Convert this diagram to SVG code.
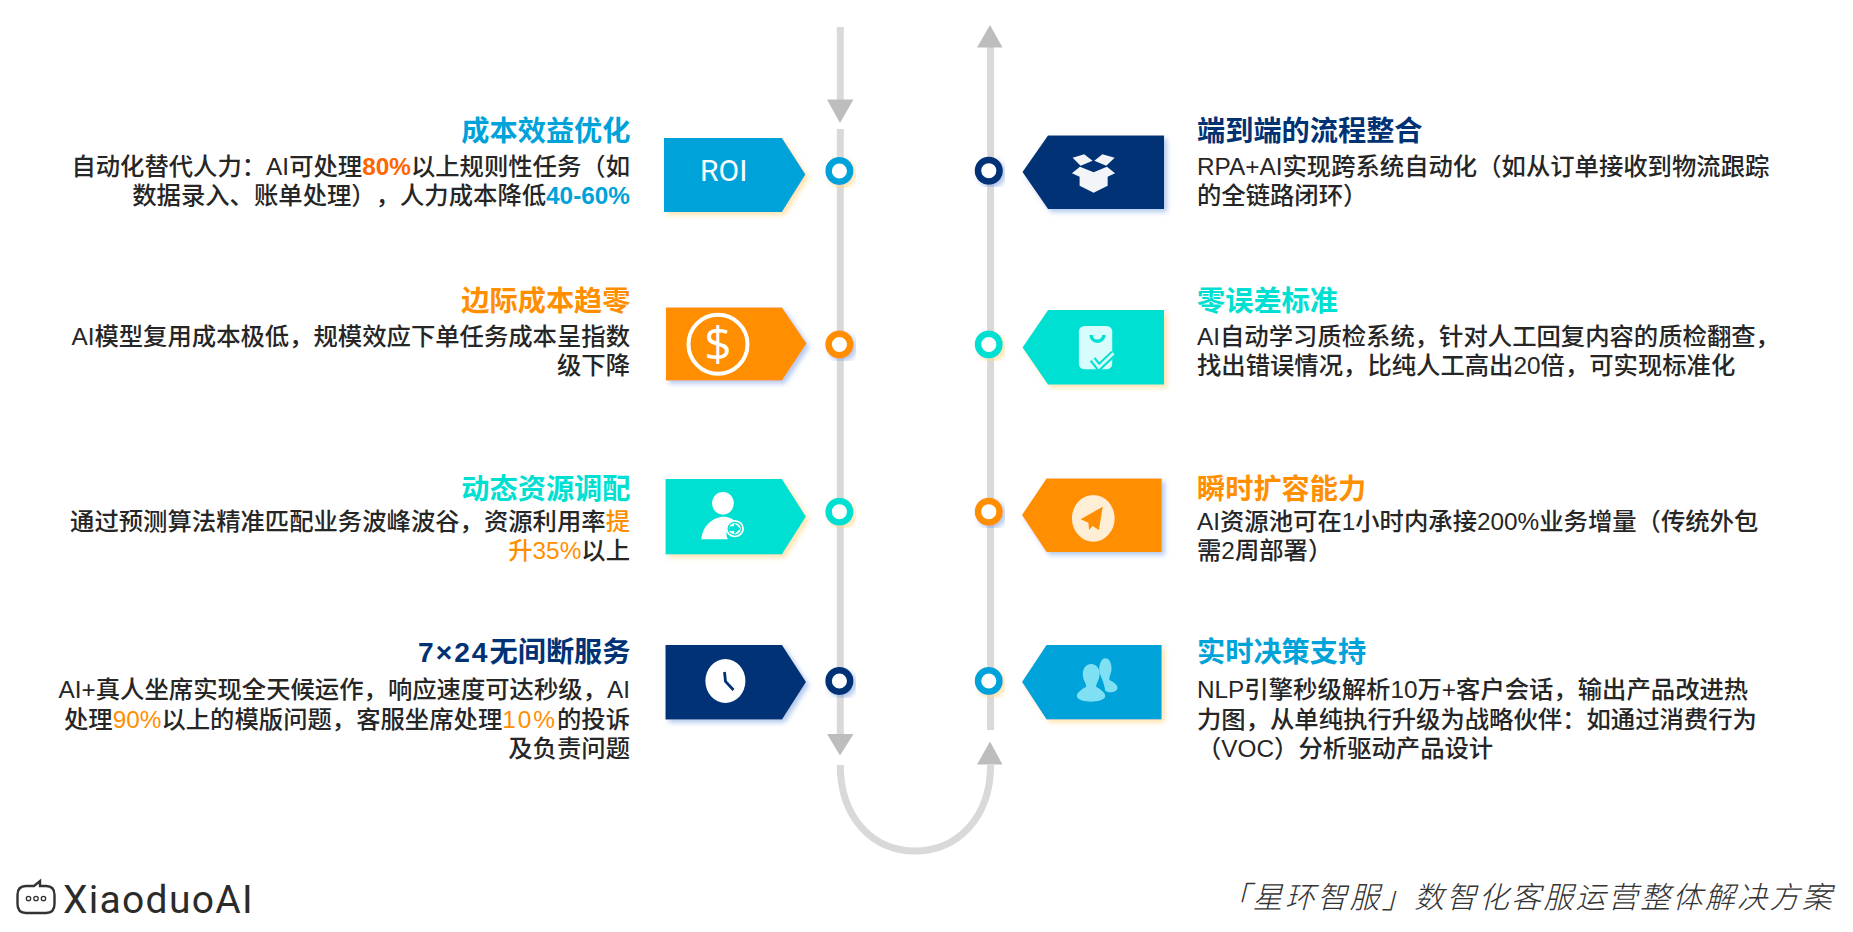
<svg xmlns="http://www.w3.org/2000/svg" width="1853" height="932" viewBox="0 0 1853 932">
<style>
text{font-family:"Liberation Sans","Noto Sans CJK SC",sans-serif;text-spacing-trim:space-all}
.t{font-size:28.2px;font-weight:700}
.b{font-size:24.35px;font-weight:500;fill:#262626}
.e{text-anchor:end}
.s{font-weight:700}
.cb{fill:#00A3D9}.co{fill:#FF8F00}.ct{fill:#00E0D2}.cn{fill:#003274}.cr{fill:#FF6600}
.l{fill:none;stroke:#D9D9D9;stroke-width:7}
.h{fill:#BDBDBD}
.r{fill:#fff;stroke-width:6.5}
.rb{stroke:#00A3D9}.ro{stroke:#FF8F00}.rt{stroke:#00E0D2}.rn{stroke:#003274}
.sy{filter:url(#sy)}.sb{filter:url(#sb)}
</style>
<defs>
<filter id="sy" x="-20%" y="-20%" width="145%" height="145%"><feDropShadow dx="3" dy="3" stdDeviation="2.5" flood-color="#FFD98A" flood-opacity=".7"/></filter>
<filter id="sb" x="-20%" y="-20%" width="145%" height="145%"><feDropShadow dx="3" dy="3" stdDeviation="2.5" flood-color="#7FA4E0" flood-opacity=".6"/></filter>
</defs>
<rect width="1853" height="932" fill="#fff"/>
<g id="connectors">
<path class="l" d="M840.3 27V100"/>
<polygon class="h" points="827,99.5 853.5,99.5 840,123"/>
<path class="l" d="M840.3 129V734"/>
<polygon class="h" points="827,734 853.5,734 840,755.5"/>
<path class="l" d="M840.3 765C840.3 818 873 851 915 851C957 851 990.6 818 990.6 765"/>
<polygon class="h" points="977,764.5 1002.5,764.5 990,741.5"/>
<path class="l" d="M990.6 730V47"/>
<polygon class="h" points="977,47.5 1002.5,47.5 990,25"/>
</g>
<g id="node-roi">
<polygon class="cb sy" points="664,138 782,138 805.5,174.5 782,212 664,212"/>
<text x="723.7" y="181" text-anchor="middle" fill="#fff" style="font-family:Roboto,sans-serif;font-size:30px;font-weight:400">ROI</text>
<circle class="r rb sy" cx="839.4" cy="171" r="10.8"/>
<text class="t cb e" x="630.5" y="141">成本效益优化</text>
<text class="b e" x="630" y="175">自动化替代人力：AI可处理<tspan class="cr s">80%</tspan>以上规则性任务（如</text>
<text class="b e" x="630" y="204">数据录入、账单处理），人力成本降低<tspan class="cb s">40-60%</tspan></text>
</g>
<g id="node-marginal">
<polygon class="co sb" points="666,307.500 782,307.500 806.500,343.500 782,380.500 666,380.500"/>
<circle cx="718" cy="344.300" r="29.500" fill="none" stroke="#fff" stroke-width="4"/>
<text x="718" y="361" text-anchor="middle" fill="#fff" style="font-family:'Open Sans',sans-serif;font-weight:400;font-size:48px">$</text>
<circle class="r ro sb" cx="839.400" cy="344.500" r="10.800"/>
<text class="t co e" x="630.500" y="311">边际成本趋零</text>
<text class="b e" x="630" y="344.500">AI模型复用成本极低，规模效应下单任务成本呈指数</text>
<text class="b e" x="630" y="374">级下降</text>
</g>
<g id="node-dynamic">
<polygon class="ct sy" points="665.500,479 782,479 806,516.500 782,554.500 665.500,554.500"/>
<g transform="translate(650 450) scale(.3507 .3333)">
<ellipse cx="208" cy="160" rx="31" ry="34" fill="#fff"/>
<path d="M146 268C150 228 175 205 205 200C225 200 235 205 240 212C222 220 212 248 222 268Z" fill="#fff"/>
<circle cx="242" cy="236" r="26" fill="#fff"/>
<circle cx="242" cy="236" r="21" fill="#00E0D2"/>
<circle cx="242" cy="236" r="17" fill="#fff"/>
<polygon points="226,229 240,229 240,219 258,236 240,253 240,243 226,243" fill="#00E0D2"/>
</g>
<circle class="r rt sy" cx="839.400" cy="511.700" r="10.800"/>
<text class="t ct e" x="630.500" y="499">动态资源调配</text>
<text class="b e" x="630" y="530">通过预测算法精准匹配业务波峰波谷，资源利用率<tspan class="co">提</tspan></text>
<text class="b e" x="630" y="559"><tspan class="co">升35%</tspan>以上</text>
</g>
<g id="node-service">
<polygon class="cn sb" points="665.500,645 782,645 806,682 782,719.500 665.500,719.500"/>
<ellipse cx="725.400" cy="681" rx="20" ry="22" fill="#fff"/>
<polyline points="724.500,672 725.500,681.500 733.500,690" fill="none" stroke="#003274" stroke-width="2.800"/>
<circle class="r rn sb" cx="839.400" cy="681" r="10.800"/>
<text class="t cn e" x="630.500" y="662"><tspan letter-spacing="2">7×24</tspan>无间断服务</text>
<text class="b e" x="630" y="698">AI+真人坐席实现全天候运作，响应速度可达秒级，AI</text>
<text class="b e" x="630" y="728">处理<tspan class="co">90%</tspan>以上的模版问题，客服坐席处理<tspan class="co" letter-spacing="2">10%</tspan>的投诉</text>
<text class="b e" x="630" y="757">及负责问题</text>
</g>
<g id="node-process">
<polygon class="cn sb" points="1164,135.500 1048,135.500 1022.500,172 1048,209 1164,209"/>
<g transform="translate(650 10) scale(.3507 .3333)" fill="#F2F4F8">
<polygon points="1205,443 1238,433 1262,452 1228,467"/>
<polygon points="1267,452 1290,433 1325,443 1301,467"/>
<polygon points="1226,470 1265,487 1303,470 1326,490 1305,500 1305,527 1265,548 1225,527 1225,500 1203,490"/>
</g>
<circle class="r rn sb" cx="988.800" cy="170.700" r="10.800"/>
<text class="t cn" x="1197" y="141">端到端的流程整合</text>
<text class="b" x="1197" y="175">RPA+AI实现跨系统自动化（如从订单接收到物流跟踪</text>
<text class="b" x="1197" y="204">的全链路闭环）</text>
</g>
<g id="node-quality">
<polygon class="ct sy" points="1164,310 1048,310 1022.500,347.500 1048,384.700 1164,384.700"/>
<g transform="translate(650 10) scale(.3507 .3333)">
<rect x="1223" y="948" width="95" height="130" rx="16" fill="#D8FBFB"/>
<path d="M1258 975C1258 1000 1292 1000 1295 975" fill="none" stroke="#00E0D2" stroke-width="10"/>
<polyline points="1262,1048 1280,1072 1322,1030" fill="none" stroke="#00E0D2" stroke-width="20"/>
<polyline points="1262,1048 1280,1072 1322,1030" fill="none" stroke="#D8FBFB" stroke-width="8"/>
</g>
<circle class="r rt sy" cx="988.800" cy="344.500" r="10.800"/>
<text class="t ct" x="1197" y="311">零误差标准</text>
<text class="b" x="1197" y="344.500">AI自动学习质检系统，针对人工回复内容的质检翻查，</text>
<text class="b" x="1197" y="374">找出错误情况，比纯人工高出20倍，可实现标准化</text>
</g>
<g id="node-scale">
<polygon class="co sb" points="1161.700,478.500 1046.500,478.500 1022,515 1046.500,552 1161.700,552"/>
<g transform="translate(650 450) scale(.3507 .3333)">
<ellipse cx="1264" cy="205" rx="61" ry="70" fill="#FEEED6"/>
<polygon points="1291,170 1228,208 1250,218 1252,240 1262,228 1280,240" fill="#FF8F00"/>
</g>
<circle class="r ro sb" cx="988.800" cy="511.700" r="10.800"/>
<text class="t co" x="1197" y="499">瞬时扩容能力</text>
<text class="b" x="1197" y="530">AI资源池可在1小时内承接200%业务增量（传统外包</text>
<text class="b" x="1197" y="559">需2周部署）</text>
</g>
<g id="node-decision">
<polygon class="cb sy" points="1161.700,645 1046.500,645 1022,682 1046.500,719.500 1161.700,719.500"/>
<g transform="translate(650 450) scale(.3507 .3333)" fill="#7FE0F4">
<path d="M1298 625C1310 625 1316 640 1316 655C1316 672 1308 680 1310 690C1320 695 1335 705 1333 715C1330 728 1310 730 1298 722C1295 700 1290 690 1282 670C1278 650 1285 625 1298 625Z"/>
<path d="M1258 642C1272 642 1282 655 1282 672C1282 690 1272 700 1272 710C1285 718 1298 728 1298 738C1298 750 1275 755 1258 755C1240 755 1217 750 1217 738C1217 728 1230 718 1244 710C1244 700 1234 690 1234 672C1234 655 1244 642 1258 642Z"/>
</g>
<circle class="r rb sy" cx="988.800" cy="681" r="10.800"/>
<text class="t cb" x="1197" y="662">实时决策支持</text>
<text class="b" x="1197" y="698">NLP引擎秒级解析10万+客户会话，输出产品改进热</text>
<text class="b" x="1197" y="728">力图，从单纯执行升级为战略伙伴：如通过消费行为</text>
<text class="b" x="1197" y="757">（VOC）分析驱动产品设计</text>
</g>
<g id="logo">
<path d="M26 886H34L40 881V886H46Q54.500 886 54.500 895V904Q54.500 913 46 913H26Q17.500 913 17.500 904V895Q17.500 886 26 886Z" fill="none" stroke="#333" stroke-width="2.400"/>
<circle cx="28.500" cy="898.500" r="2.200" fill="none" stroke="#333" stroke-width="1.300"/>
<circle cx="36" cy="898.500" r="2.200" fill="none" stroke="#333" stroke-width="1.300"/>
<circle cx="43.500" cy="898.500" r="2.200" fill="none" stroke="#333" stroke-width="1.300"/>
<text x="63" y="912.500" fill="#2b2b2b" style="font-family:Roboto,sans-serif;font-size:39px;letter-spacing:1.300px">XiaoduoAI</text>
</g>
<text id="caption" x="1834" y="908" text-anchor="end" fill="#333" font-style="italic" style="font-family:'Noto Sans CJK SC',sans-serif;font-weight:300;font-size:30px;letter-spacing:2.300px">「星环智服」数智化客服运营整体解决方案</text>
</svg>
